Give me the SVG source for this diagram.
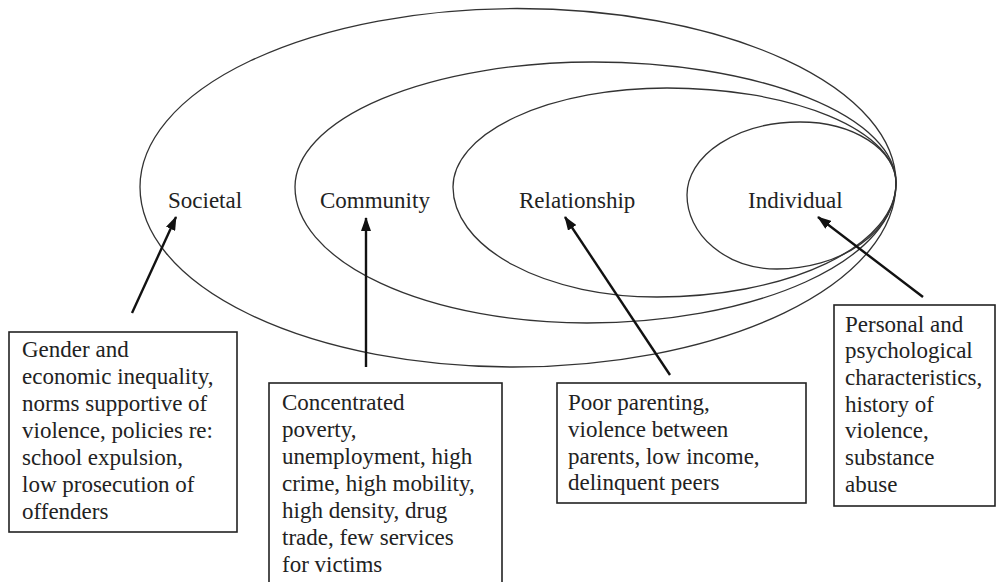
<svg xmlns="http://www.w3.org/2000/svg" width="997" height="582" viewBox="0 0 997 582">
<style>
.ring{fill:none;stroke:#333;stroke-width:1.3}
.box{fill:#fff;stroke:#222;stroke-width:1.6}
.lbl{font-family:"Liberation Serif","Times New Roman",serif;font-size:23px;fill:#222}
.arr{stroke:#111;stroke-width:2.4;fill:none;marker-end:url(#ah)}
</style>
<defs>
<marker id="ah" viewBox="0 0 14 10" refX="13" refY="5" markerWidth="14" markerHeight="10" markerUnits="userSpaceOnUse" orient="auto">
<path d="M0,0 L14,5 L0,10 Z" fill="#111"/>
</marker>
</defs>
<rect width="997" height="582" fill="#fff"/>
<g id="societal">
<path class="ring" d="M896,183 A379,174.5 0 0 0 517,8.5 A377,178.5 0 0 0 140,187 A373,180 0 0 0 513,367 A383,184 0 0 0 896,183 Z"/>
<text class="lbl" x="168" y="208">Societal</text>
</g>
<g id="community">
<path class="ring" d="M896,183 A303,121 0 0 0 593,62 A298,125 0 0 0 295,187 A292,136 0 0 0 587,323 A309,140 0 0 0 896,183 Z"/>
<text class="lbl" x="320" y="208">Community</text>
</g>
<g id="relationship">
<path class="ring" d="M896,183 A229,95 0 0 0 667,88 A214,99 0 0 0 453,187 A204,110 0 0 0 657,297 A239,114 0 0 0 896,183 Z"/>
<text class="lbl" x="519" y="208">Relationship</text>
</g>
<g id="individual">
<path class="ring" d="M896,183 A96,61 0 0 0 800,122 A113,73 0 0 0 687,195 A90,74 0 0 0 777,269 A119,86 0 0 0 896,183 Z"/>
<text class="lbl" x="748" y="208">Individual</text>
</g>
<g id="box-societal">
<rect class="box" x="9" y="332" width="228" height="200"/>
<text class="lbl" x="22" y="357">Gender and</text>
<text class="lbl" x="22" y="384">economic inequality,</text>
<text class="lbl" x="22" y="411">norms supportive of</text>
<text class="lbl" x="22" y="438">violence, policies re:</text>
<text class="lbl" x="22" y="465">school expulsion,</text>
<text class="lbl" x="22" y="492">low prosecution of</text>
<text class="lbl" x="22" y="519">offenders</text>
</g>
<g id="box-community">
<rect class="box" x="269" y="383" width="233" height="210"/>
<text class="lbl" x="282" y="410">Concentrated</text>
<text class="lbl" x="282" y="437">poverty,</text>
<text class="lbl" x="282" y="464">unemployment, high</text>
<text class="lbl" x="282" y="491">crime, high mobility,</text>
<text class="lbl" x="282" y="518">high density, drug</text>
<text class="lbl" x="282" y="545">trade, few services</text>
<text class="lbl" x="282" y="572">for victims</text>
</g>
<g id="box-relationship">
<rect class="box" x="557" y="383" width="249" height="120"/>
<text class="lbl" x="568" y="410">Poor parenting,</text>
<text class="lbl" x="568" y="437">violence between</text>
<text class="lbl" x="568" y="464">parents, low income,</text>
<text class="lbl" x="568" y="490">delinquent peers</text>
</g>
<g id="box-individual">
<rect class="box" x="834" y="305" width="161" height="201"/>
<text class="lbl" x="845" y="332">Personal and</text>
<text class="lbl" x="845" y="358">psychological</text>
<text class="lbl" x="845" y="385">characteristics,</text>
<text class="lbl" x="845" y="412">history of</text>
<text class="lbl" x="845" y="438">violence,</text>
<text class="lbl" x="845" y="465">substance</text>
<text class="lbl" x="845" y="492">abuse</text>
</g>
<g id="connectors">
<line class="arr" x1="132" y1="313" x2="176" y2="217"/>
<line class="arr" x1="366" y1="367" x2="366" y2="218"/>
<line class="arr" x1="670" y1="375" x2="565" y2="217"/>
<line class="arr" x1="923" y1="297" x2="818" y2="217"/>
</g>
</svg>
